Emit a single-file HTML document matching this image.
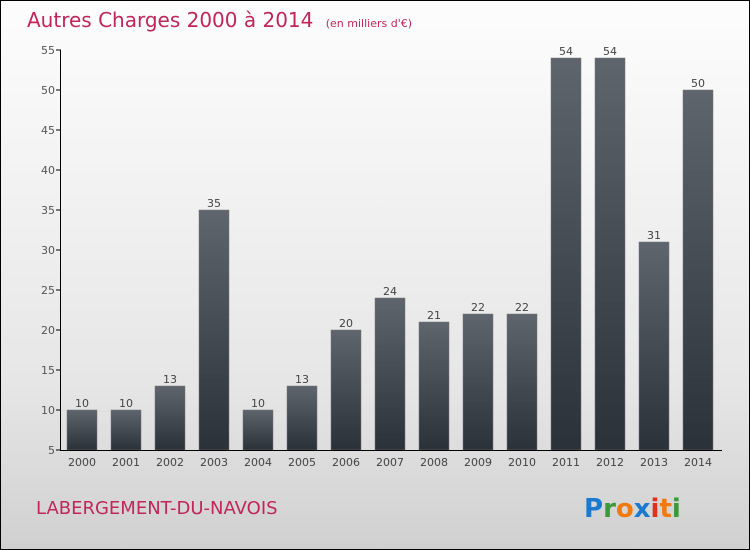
<!DOCTYPE html>
<html><head><meta charset="utf-8"><style>
body{margin:0}
#c{position:relative;width:748px;height:548px;border:1px solid #000;background:linear-gradient(#fdfdfd,#e6e6e6 70%,#d0d0d0);font-family:"DejaVu Sans","Liberation Sans",sans-serif;overflow:hidden}
</style></head><body>
<div id="c">
<svg id="s" width="748" height="548">
<defs><linearGradient id="bg" x1="0" y1="0" x2="0" y2="1"><stop offset="0" stop-color="#5e656d"/><stop offset="1" stop-color="#2b3139"/></linearGradient></defs>
<text x="26" y="26" font-size="20" fill="#c0265a">Autres Charges 2000 à 2014 <tspan font-size="11" dx="6">(en milliers d'€)</tspan></text>
<text x="35" y="513" font-size="18" fill="#c0265a">LABERGEMENT-DU-NAVOIS</text>
<text x="583" y="516" font-size="26" font-weight="bold"><tspan fill="#1a7ad0">P</tspan><tspan fill="#3a9a3a">r</tspan><tspan fill="#f07a10">o</tspan><tspan fill="#1a7ad0">x</tspan><tspan fill="#e03020">i</tspan><tspan fill="#f07a10">t</tspan><tspan fill="#3a9a3a">i</tspan></text>
<g id="g"></g>
</svg>
</div>
<script>
const categories=["2000","2001","2002","2003","2004","2005","2006","2007","2008","2009","2010","2011","2012","2013","2014"];
const values=[10,10,13,35,10,13,20,24,21,22,22,54,54,31,50];
const yTicks=[5,10,15,20,25,30,35,40,45,50,55];
const NS="http://www.w3.org/2000/svg",g=document.getElementById("g");
const y=v=>450+(5-v)*8-1, x=i=>82+i*44-1;
function mk(t,a,txt){const e=document.createElementNS(NS,t);for(const k in a)e.setAttribute(k,a[k]);if(txt!=null)e.textContent=txt;g.appendChild(e);return e;}
yTicks.forEach(t=>{
const tk=mk("line",{x1:55,x2:60,y1:y(t),y2:y(t),stroke:"#000"});


const l=mk("text",{x:54,y:y(t)+4,"font-size":11,fill:"#555","text-anchor":"end"},t);


});
values.forEach((v,i)=>{
const b=mk("rect",{x:x(i)-15,y:y(v),width:30,height:y(5)-y(v),fill:"url(#bg)",stroke:"#777","stroke-width":0.5});


const vl=mk("text",{x:x(i),y:y(v)-3,"font-size":11,fill:"#444","text-anchor":"middle"},v);


const cl=mk("text",{x:x(i),y:465,"font-size":11,fill:"#444","text-anchor":"middle"},categories[i]);


});
const ya=mk("line",{x1:59.5,x2:59.5,y1:y(55),y2:y(5),stroke:"#000"});


const xa=mk("line",{x1:59,x2:721,y1:y(5)+0.5,y2:y(5)+0.5,stroke:"#000"});


</script>
</body></html>
